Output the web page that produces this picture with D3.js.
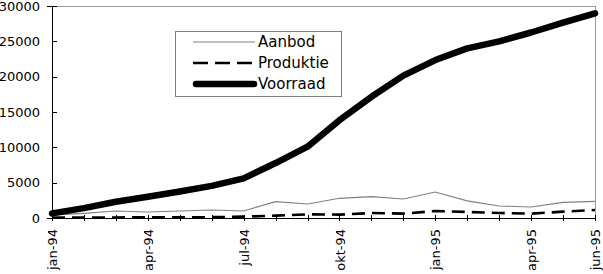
<!DOCTYPE html>
<html>
<head>
<meta charset="utf-8">
<title>Aanbod, Produktie, Voorraad</title>
<script src="https://d3js.org/d3.v7.min.js"></script>
<style>
  body { margin: 0; background: #fff; }
  text { font-family: "DejaVu Sans", sans-serif; fill: #000; }
</style>
</head>
<body>
<script>
const months = ["jan-94","feb-94","mrt-94","apr-94","mei-94","jun-94","jul-94","aug-94","sep-94",
                "okt-94","nov-94","dec-94","jan-95","feb-95","mrt-95","apr-95","mei-95","jun-95"]
const shownLabels = ["jan-94","apr-94","jul-94","okt-94","jan-95","apr-95","jun-95"]
const aanbod    = [400, 660, 990, 850, 990, 1130, 990, 2310, 1980, 2790, 3020, 2690, 3680, 2430, 1700, 1560, 2220, 2360]
const produktie = [50, 50, 80, 100, 100, 120, 190, 330, 520, 480, 700, 620, 990, 850, 710, 620, 900, 1130]
const voorraad  = [650, 1400, 2300, 3000, 3750, 4550, 5600, 7780, 10100, 13850, 17150, 20150, 22350, 24000, 25000, 26250, 27650, 28950]
const yTicks = [0, 5000, 10000, 15000, 20000, 25000, 30000]

const W = 603, H = 274
const margin = {left: 52, top: 6, right: 8, bottom: 56}

const svg = d3.select("body").append("svg")
  .attr("width", W).attr("height", H)

const x = d3.scalePoint()
  .domain(months)
  .range([margin.left, W - margin.right])

const y = d3.scaleLinear()
  .domain([0, 30000])
  .range([H - margin.bottom, margin.top])

// plot area border (top and right) in gray
svg.append("line")
  .attr("x1", margin.left).attr("x2", W - margin.right)
  .attr("y1", y(30000)).attr("y2", y(30000))
  .attr("stroke", "#999").attr("stroke-width", 1).attr("shape-rendering", "crispEdges")
svg.append("line")
  .attr("x1", W - margin.right).attr("x2", W - margin.right)
  .attr("y1", y(30000)).attr("y2", y(0))
  .attr("stroke", "#999").attr("stroke-width", 1).attr("shape-rendering", "crispEdges")

// y axis
const yAxis = svg.append("g")
  .attr("transform", `translate(${margin.left},0)`)
  .call(d3.axisLeft(y).tickValues(yTicks).tickSize(5).tickPadding(7).tickFormat(d3.format("d")))
yAxis.select(".domain").attr("stroke", "#000").attr("shape-rendering", "crispEdges")
yAxis.selectAll(".tick line").attr("x2", 5).attr("shape-rendering", "crispEdges")
yAxis.selectAll("text").style("font-size", "13px").attr("fill", "#000")

// x axis
const xAxis = svg.append("g")
  .attr("transform", `translate(0,${y(0)})`)
  .call(d3.axisBottom(x).tickSize(3).tickSizeOuter(0)
    .tickFormat(d => shownLabels.includes(d) ? d : ""))
xAxis.select(".domain").attr("stroke", "#000").attr("shape-rendering", "crispEdges")
xAxis.selectAll(".tick line").attr("y1", -3).attr("shape-rendering", "crispEdges")
xAxis.selectAll("text")
  .style("font-size", "13px")
  .attr("fill", "#000")
  .attr("text-anchor", "end")
  .attr("transform", "rotate(-90)")
  .attr("x", -11).attr("y", 0).attr("dy", "0.35em")

const line = d3.line()
  .x((d, i) => x(months[i]))
  .y(d => y(d))

svg.append("path").datum(aanbod)
  .attr("d", line).attr("fill", "none")
  .attr("stroke", "#808080").attr("stroke-width", 1.2)

svg.append("path").datum(produktie)
  .attr("d", line).attr("fill", "none")
  .attr("stroke", "#000").attr("stroke-width", 2.6)
  .attr("stroke-dasharray", "13,7")

svg.append("path").datum(voorraad)
  .attr("d", line).attr("fill", "none")
  .attr("stroke", "#000").attr("stroke-width", 6.5)
  .attr("stroke-linecap", "round").attr("stroke-linejoin", "round")

// legend
const legend = svg.append("g")
legend.append("rect")
  .attr("x", 175.5).attr("y", 31.5).attr("width", 166).attr("height", 65)
  .attr("fill", "#fff").attr("stroke", "#808080").attr("stroke-width", 1)

const items = [
  {name: "Aanbod", stroke: "#808080", width: 1.2, dash: null, cap: "butt"},
  {name: "Produktie", stroke: "#000", width: 2.6, dash: "15,7", cap: "butt"},
  {name: "Voorraad", stroke: "#000", width: 6.5, dash: null, cap: "round"}
]
const rowY = [42, 63, 84]
items.forEach((it, i) => {
  legend.append("line")
    .attr("x1", it.cap === "round" ? 196 : 193).attr("x2", it.cap === "round" ? 254 : 255)
    .attr("y1", rowY[i]).attr("y2", rowY[i])
    .attr("stroke", it.stroke).attr("stroke-width", it.width)
    .attr("stroke-dasharray", it.dash)
    .attr("stroke-linecap", it.cap)
  legend.append("text")
    .attr("x", 258).attr("y", rowY[i]).attr("dy", "0.36em")
    .style("font-size", "15px")
    .text(it.name)
})
</script>
</body>
</html>
